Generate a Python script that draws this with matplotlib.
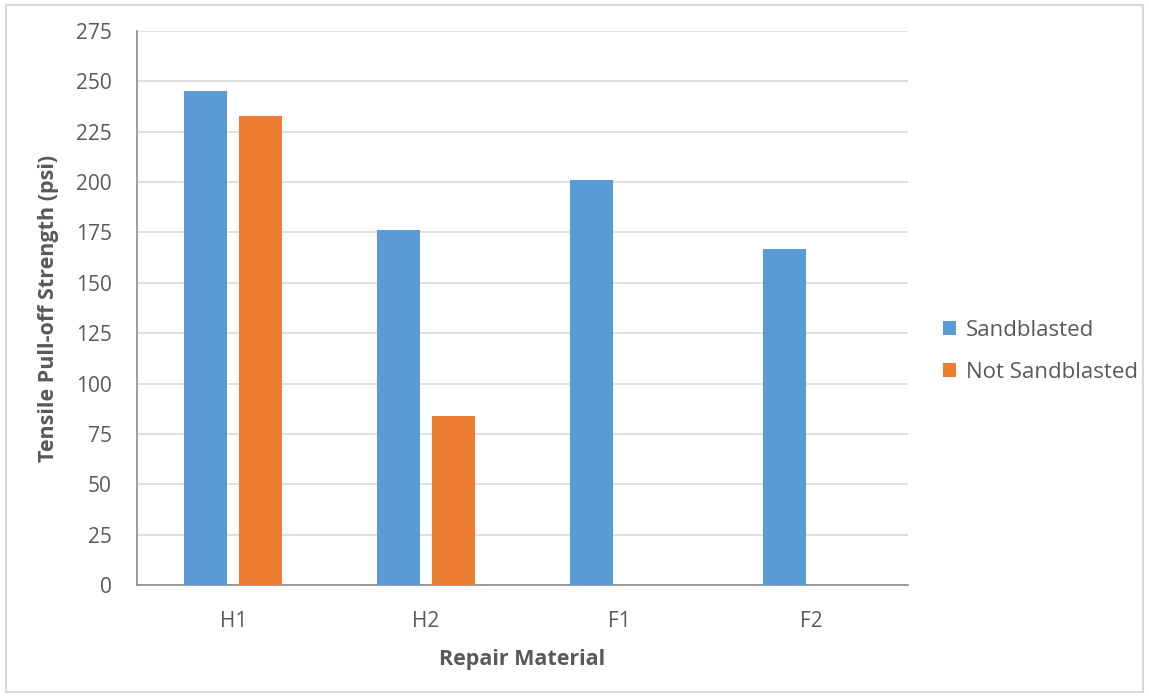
import matplotlib.pyplot as plt
import numpy as np
from matplotlib.patches import Rectangle

plt.rcParams['font.family'] = ['Open Sans', 'DejaVu Sans']

materials = ['H1', 'H2', 'F1', 'F2']
sandblasted = [245, 176, 201, 167]
not_sandblasted = [233, 84, 0, 0]
yticks = [0, 25, 50, 75, 100, 125, 150, 175, 200, 225, 250, 275]

blue = '#5B9BD5'
orange = '#ED7D31'
text_col = '#595959'

fig = plt.figure(figsize=(11.49, 6.96), dpi=100)
ax = fig.add_axes([0.1192, 0.1595, 0.6711, 0.796])

x = np.arange(len(materials))
w = 0.223
ax.bar(x - 0.143, sandblasted, w, color=blue, label='Sandblasted', zorder=3)
ax.bar(x + 0.143, not_sandblasted, w, color=orange, label='Not Sandblasted', zorder=3)

ax.set_xlim(-0.5, len(materials) - 0.5)
ax.set_ylim(0, 275)
ax.set_yticks(yticks)
ax.set_xticks(x)
ax.set_xticklabels(materials)
ax.grid(axis='y', color='#d9d9d9', linewidth=1.2, zorder=0)
ax.tick_params(length=0, labelsize=15, colors=text_col)
ax.tick_params(axis='y', pad=18)
ax.tick_params(axis='x', pad=19)

for s in ['top', 'right']:
    ax.spines[s].set_visible(False)
for s in ['left', 'bottom']:
    ax.spines[s].set_color('#8c8c8c')
    ax.spines[s].set_linewidth(1.2)

ax.set_ylabel('Tensile Pull-off Strength (psi)', fontsize=15.5, fontweight='bold',
              color=text_col, labelpad=12)
ax.set_xlabel('Repair Material', fontsize=15.5, fontweight='bold',
              color=text_col, labelpad=12)

fig.legend(loc='center left', bbox_to_anchor=(0.803, 0.495), frameon=False,
           fontsize=16, labelcolor=text_col, handlelength=0.6, handleheight=0.6,
           handletextpad=0.45, labelspacing=0.95)

# light outer frame
fig.patches.append(Rectangle((0.005, 0.006), 0.99, 0.987, transform=fig.transFigure,
                             fill=False, edgecolor='#d9d9d9', linewidth=1.5))

fig.savefig('out.png', dpi=100)
